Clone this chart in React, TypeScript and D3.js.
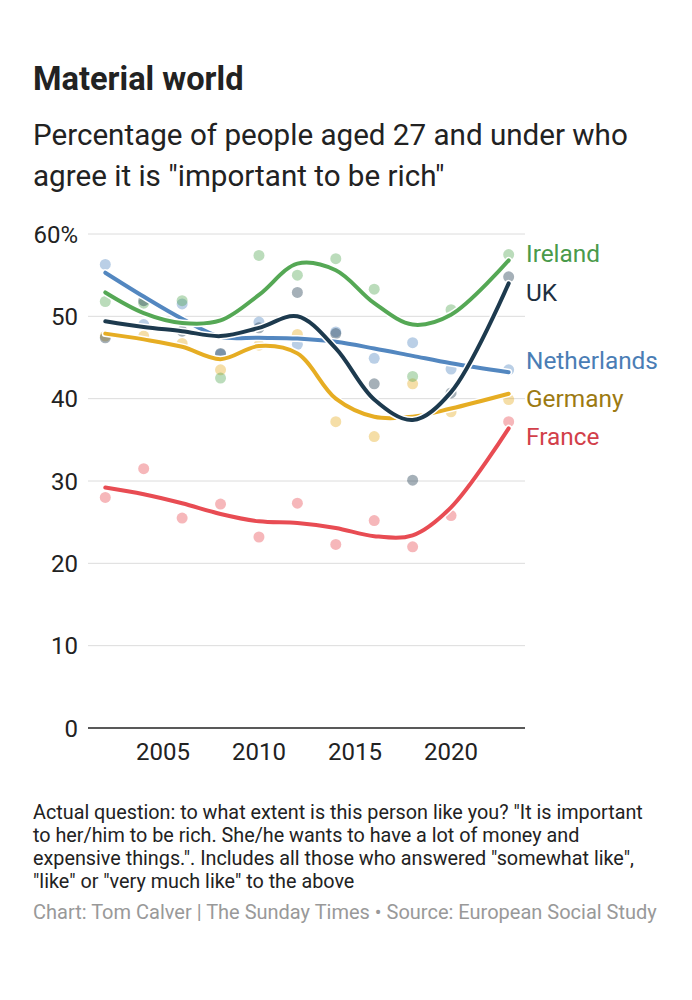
import React from 'react';
import * as d3 from 'd3';

// survey rounds (European Social Survey)
const years = [2002, 2004, 2006, 2008, 2010, 2012, 2014, 2016, 2018, 2020, 2023];

// observed values (dots)
const ireland = [51.8, 51.6, 51.9, 42.5, 57.4, 55.0, 57.0, 53.3, 42.7, 50.8, 57.5];
const uk = [47.4, 51.9, 48.2, 45.5, 48.6, 52.9, 47.9, 41.8, 30.1, 40.7, 54.8];
const netherlands = [56.3, 49.0, 51.5, 45.4, 49.3, 46.6, 48.1, 44.9, 46.8, 43.6, 43.5];
const germany = [47.6, 47.6, 46.7, 43.5, 46.5, 47.8, 37.2, 35.4, 41.8, 38.4, 39.9];
const france = [28.0, 31.5, 25.5, 27.2, 23.2, 27.3, 22.3, 25.2, 22.0, 25.8, 37.2];

// smoothed trend at the same years
const irelandTrend = [52.9, 50.4, 49.2, 49.5, 52.6, 56.4, 55.6, 51.6, 49.0, 50.2, 56.8];
const ukTrend = [49.4, 48.7, 48.2, 47.6, 48.6, 50.0, 46.1, 39.9, 37.4, 40.8, 54.0];
const netherlandsTrend = [55.3, 52.4, 49.7, 47.5, 47.4, 47.3, 46.9, 46.1, 45.2, 44.3, 43.2];
const germanyTrend = [47.9, 47.2, 46.3, 44.8, 46.4, 45.5, 40.0, 37.8, 37.8, 38.8, 40.6];
const franceTrend = [29.2, 28.4, 27.3, 26.0, 25.1, 24.9, 24.3, 23.3, 23.4, 26.8, 36.4];

const xTicks = [2005, 2010, 2015, 2020];
const yTicks = [0, 10, 20, 30, 40, 50, 60];

const series = [
  { name: 'France', values: france, trend: franceTrend, line: '#e84c53', label: '#d2404a', labelY: 436 },
  { name: 'Germany', values: germany, trend: germanyTrend, line: '#e6ad23', label: '#9c7a12', labelY: 398 },
  { name: 'Netherlands', values: netherlands, trend: netherlandsTrend, line: '#5387c0', label: '#4a7db5', labelY: 360 },
  { name: 'Ireland', values: ireland, trend: irelandTrend, line: '#55a855', label: '#4a9a4a', labelY: 253 },
  { name: 'UK', values: uk, trend: ukTrend, line: '#1d3a4e', label: '#1d2f3f', labelY: 292 },
];

const font = 'Roboto, "Noto Sans", sans-serif';

const App: React.FC = () => {
  const x = d3.scaleLinear().domain([2001.1, 2023.85]).range([88, 525]);
  const y = d3.scaleLinear().domain([0, 60]).range([728, 234]);

  const line = d3.line<number>()
    .x((_, i) => x(years[i]))
    .y(d => y(d))
    .curve(d3.curveCatmullRom.alpha(0.5));

  return (
    <svg width={692} height={1000} style={{ position: 'absolute', left: 0, top: 0, background: '#fff' }} fontFamily={font}>
      <text x={33} y={90} fontSize={32.6} fontWeight={700} fill="#222">Material world</text>
      <text x={33} y={145} fontSize={29.6} fill="#222">Percentage of people aged 27 and under who</text>
      <text x={33} y={186} fontSize={29.6} fill="#222">agree it is "important to be rich"</text>

      {yTicks.filter(t => t > 0).map(t => (
        <line key={t} x1={88} x2={525} y1={y(t)} y2={y(t)} stroke="#dcdcdc" strokeWidth={1} />
      ))}
      {yTicks.map(t => (
        <text key={t} x={78} y={y(t) + 8.5} fontSize={24} fill="#222" textAnchor="end">
          {t === 60 ? '60%' : t}
        </text>
      ))}
      {xTicks.map(t => (
        <text key={t} x={x(t)} y={760} fontSize={24} fill="#222" textAnchor="middle">{t}</text>
      ))}

      {series.map(s => (
        <g key={s.name + '-dots'}>
          {s.values.map((v, i) => (
            <circle key={i} cx={x(years[i])} cy={y(v)} r={5.5} fill={s.line} fillOpacity={0.4} />
          ))}
        </g>
      ))}

      {series.map(s => (
        <g key={s.name + '-line'}>
          <path d={line(s.trend) || ''} fill="none" stroke="#fff" strokeWidth={7} strokeLinecap="round" />
          <path d={line(s.trend) || ''} fill="none" stroke={s.line} strokeWidth={4} strokeLinecap="round" />
        </g>
      ))}

      <line x1={88} x2={525} y1={y(0)} y2={y(0)} stroke="#222" strokeWidth={1.5} />

      {series.map(s => (
        <text key={s.name + '-label'} x={526} y={s.labelY + 8.7} fontSize={24.4} fill={s.label}>{s.name}</text>
      ))}

      <g fontSize={19.8} fill="#222">
        <text x={33} y={819}>Actual question: to what extent is this person like you? "It is important</text>
        <text x={33} y={842}>to her/him to be rich. She/he wants to have a lot of money and</text>
        <text x={33} y={865}>expensive things.". Includes all those who answered "somewhat like",</text>
        <text x={33} y={888}>"like" or "very much like" to the above</text>
      </g>
      <text x={33} y={919} fontSize={20} fill="#999">Chart: Tom Calver | The Sunday Times • Source: European Social Study</text>
    </svg>
  );
};

export default App;
